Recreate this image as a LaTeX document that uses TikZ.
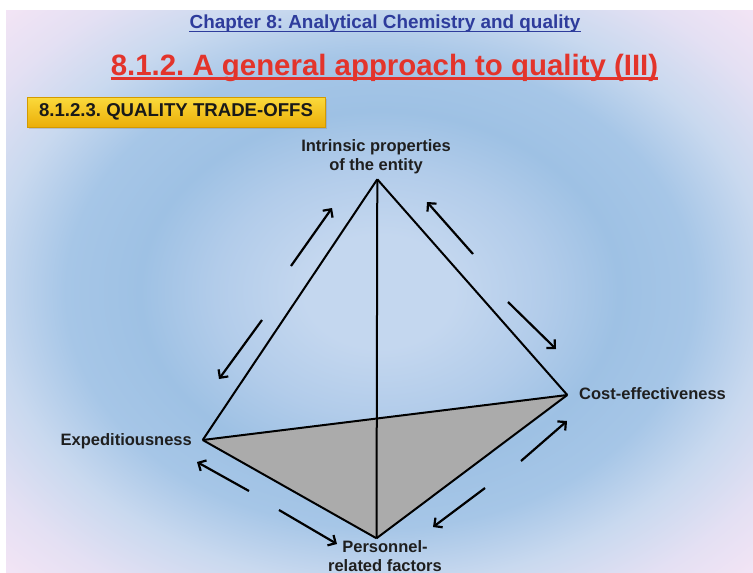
\documentclass[tikz,border=0pt]{standalone}
\usepackage{fontspec}
\setmainfont{Liberation Sans}
\usetikzlibrary{arrows.meta,shadows}
\frenchspacing
\definecolor{bgA}{HTML}{C4D7EF}
\definecolor{bgB}{HTML}{B2CCEA}
\definecolor{bgC}{HTML}{9EC1E4}
\definecolor{bgCC}{HTML}{A6C6E7}
\definecolor{bgD}{HTML}{C9D9EF}
\definecolor{bgDD}{HTML}{E4E0F3}
\definecolor{bgE}{HTML}{F5E5F5}
\definecolor{chapblue}{HTML}{2E3C9C}
\definecolor{headred}{HTML}{E3342B}
\definecolor{boxtop}{HTML}{FBDA3C}
\definecolor{boxbot}{HTML}{EBAE08}
\definecolor{boxedge}{HTML}{D49A00}
\definecolor{facegray}{HTML}{ABABAB}
\pgfdeclareradialshading{bgshade}{\pgfpoint{0bp}{0bp}}{color(0bp)=(bgA); color(5bp)=(bgA); color(11bp)=(bgB); color(16bp)=(bgC); color(21bp)=(bgCC); color(26bp)=(bgD); color(31bp)=(bgDD); color(36bp)=(bgE)}
\tikzset{
  edge/.style={line width=2pt, line join=miter},
  flow/.style={line width=2.2pt, -{Straight Barb[length=6pt,width=12pt]}},
  vlabel/.style={font=\fontsize{16.5}{18.6}\selectfont\bfseries, text=black!88, inner sep=0pt},
}
\begin{document}
\begin{tikzpicture}[x=1pt,y=-1pt]
\useasboundingbox (0,0) rectangle (753,573);
\fill[white] (0,0) rectangle (753,573);
\shade[shading=bgshade] (6,10) rectangle (753,573);

% titles
\node (chap) [inner sep=0pt, anchor=base, text=chapblue, font=\fontsize{18.9}{20}\selectfont\bfseries] at (385,28.7) {Chapter 8: Analytical Chemistry and quality};
\draw[chapblue, line width=1.5pt] ([yshift=-2.6pt]chap.base west) -- ([yshift=-2.6pt]chap.base east);
\node (head) [inner sep=0pt, anchor=base, text=headred, font=\fontsize{29.4}{31}\selectfont\bfseries] at (384.5,75) {8.1.2. A general approach to quality (III)};
\draw[headred, line width=2.4pt] ([yshift=-3.6pt]head.base west) -- ([yshift=-3.6pt]head.base east);

% section box
\node (sec) [draw=boxedge, line width=0.6pt, top color=boxtop, bottom color=boxbot, minimum width=298pt, minimum height=30pt, inner sep=0pt,
  drop shadow={opacity=0.3, shadow xshift=1.5pt, shadow yshift=-1.5pt},
  font=\fontsize{18.6}{20}\selectfont\bfseries, text=black!90] at (176,112) {8.1.2.3. QUALITY TRADE-OFFS\hspace{7pt}};

% vertices
\coordinate (A) at (377.3,179.3);
\coordinate (E) at (202.7,440);
\coordinate (C) at (567.3,395);
\coordinate (P) at (376.5,538.3);

\fill[facegray] (E) -- (C) -- (P) -- cycle;
\draw[edge] (A) -- (E);
\draw[edge] (A) -- (C);
\draw[edge] (A) -- (P);
\draw[edge] (E) -- (C);
\draw[edge] (E) -- (P);
\draw[edge] (C) -- (P);

% labels
\node (lA) [vlabel, align=center, anchor=north] at (376,139.8) {Intrinsic properties\\of the entity};
\node (lE) [vlabel, anchor=base east] at (192,445.7) {Expeditiousness};
\node (lC) [vlabel, anchor=base west] at (579,399) {Cost-effectiveness};
\node (lP) [vlabel, align=center, anchor=north] at (385,540.8) {Personnel-\\related factors};

% arrows
\coordinate (a1s) at (291,266); \coordinate (a1e) at (332,208);
\coordinate (a2s) at (262,320); \coordinate (a2e) at (219,379);
\coordinate (a3s) at (473,254); \coordinate (a3e) at (427,202);
\coordinate (a4s) at (508,302); \coordinate (a4e) at (556,349);
\coordinate (a5s) at (521,461); \coordinate (a5e) at (567,421);
\coordinate (a6s) at (485,488); \coordinate (a6e) at (433,527);
\coordinate (a7s) at (249,491); \coordinate (a7e) at (197,462);
\coordinate (a8s) at (279,510); \coordinate (a8e) at (337,544);
\draw[flow] (a1s) -- (a1e);
\draw[flow] (a2s) -- (a2e);
\draw[flow] (a3s) -- (a3e);
\draw[flow] (a4s) -- (a4e);
\draw[flow] (a5s) -- (a5e);
\draw[flow] (a6s) -- (a6e);
\draw[flow] (a7s) -- (a7e);
\draw[flow] (a8s) -- (a8e);
\end{tikzpicture}
\end{document}
